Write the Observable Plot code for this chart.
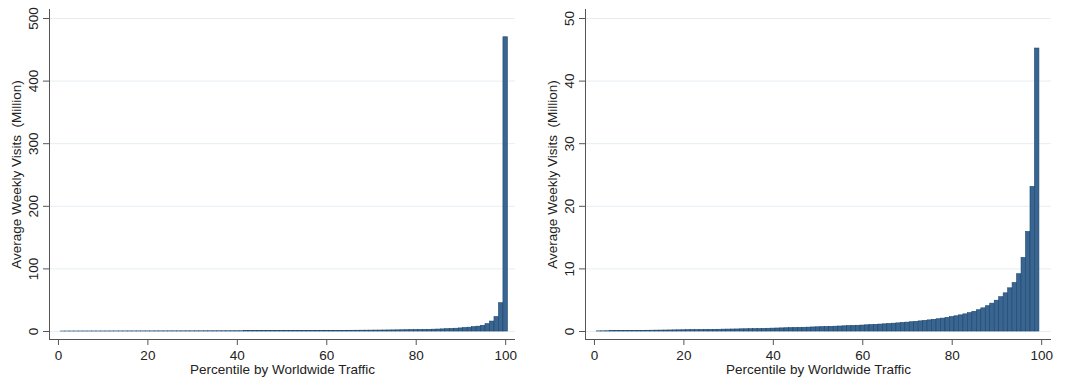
<!DOCTYPE html>
<html>
<head>
<meta charset="utf-8">
<script src="https://cdn.jsdelivr.net/npm/d3@7"></script>
<script src="https://cdn.jsdelivr.net/npm/@observablehq/plot@0.6"></script>
<style>
  html, body { margin: 0; padding: 0; background: #fff; }
  #wrap { display: flex; width: 1072px; height: 385px; }
  svg text { white-space: pre; }
</style>
</head>
<body>
<div id="wrap"></div>
<script>
// Percentile (1..100) by worldwide traffic
const percentiles = d3.range(1, 101);
// Average weekly visits (million)
const visits = [
  0.02, 0.03, 0.04, 0.05, 0.06, 0.06, 0.07, 0.08, 0.09, 0.10,
  0.11, 0.12, 0.13, 0.14, 0.15, 0.16, 0.17, 0.18, 0.19, 0.20,
  0.21, 0.22, 0.23, 0.24, 0.25, 0.26, 0.27, 0.28, 0.30, 0.31,
  0.32, 0.33, 0.35, 0.36, 0.37, 0.39, 0.40, 0.42, 0.44, 0.46,
  0.48, 0.50, 0.52, 0.54, 0.56, 0.58, 0.60, 0.62, 0.65, 0.67,
  0.70, 0.72, 0.75, 0.77, 0.80, 0.83, 0.86, 0.89, 0.92, 0.95,
  0.99, 1.03, 1.07, 1.11, 1.15, 1.20, 1.25, 1.30, 1.36, 1.42,
  1.48, 1.55, 1.62, 1.70, 1.78, 1.87, 1.96, 2.06, 2.18, 2.30,
  2.43, 2.58, 2.74, 2.93, 3.15, 3.40, 3.70, 4.04, 4.45, 4.92,
  5.48, 6.10, 6.90, 7.75, 9.15, 11.75, 15.9, 23.1, 45.2, 470
];
const xTicks = [0, 20, 40, 60, 80, 100];
const yTicksLeft = [0, 100, 200, 300, 400, 500];
const yTicksRight = [0, 10, 20, 30, 40, 50];
const xLabel = "Percentile by Worldwide Traffic";
const yLabel = "Average Weekly Visits  (Million)";

const rows = percentiles.map((p, i) => ({p, v: visits[i]}));

function panel(data, yTicks, yMax) {
  const xDom = [-2.0, 102.2];
  const step = (yTicks[yTicks.length - 1]) / 313.3; // units per px
  const yDom = [-8 * step, yTicks[yTicks.length - 1] + 9 * step];
  const font = "Liberation Sans, Arial, sans-serif";
  return Plot.plot({
    width: 536,
    height: 385,
    marginLeft: 49,
    marginRight: 21,
    marginTop: 9,
    marginBottom: 46,
    style: {fontFamily: font, fontSize: "13.5px", color: "#222", background: "#fff"},
    x: {domain: xDom},
    y: {domain: yDom},
    marks: [
      Plot.ruleY(yTicks, {x1: xDom[0], x2: xDom[1], stroke: "#e6eef2", strokeWidth: 1}),
      Plot.rectY(data, {
        x1: d => d.p - 0.5, x2: d => d.p + 0.5, y1: 0, y2: "v",
        fill: "#3a6590", stroke: "#1a476f", strokeWidth: 0.6
      }),
      Plot.ruleX([xDom[0]], {y1: yDom[0], y2: yDom[1], stroke: "#555", strokeWidth: 1}),
      Plot.ruleY([yDom[0]], {x1: xDom[0], x2: xDom[1], stroke: "#555", strokeWidth: 1}),
      Plot.axisX({ticks: xTicks, tickSize: 6, tickPadding: 5, label: null,
                  stroke: "#555", fill: "#222", fontSize: 13.5}),
      Plot.axisY({ticks: yTicks, tickSize: 6, tickFormat: () => "", label: null, stroke: "#555"}),
      Plot.text(yTicks, {x: xDom[0], y: d => d, text: d => String(d), rotate: -90,
                         dx: -16, fill: "#222", fontSize: 13.5, textAnchor: "middle"}),
      Plot.text([xLabel], {frameAnchor: "bottom", dy: 34, text: d => d,
                           fill: "#222", fontSize: 13.5}),
      Plot.text([yLabel], {frameAnchor: "left", dx: -33, rotate: -90, text: d => d,
                           fill: "#222", fontSize: 13.5, textAnchor: "middle"})
    ]
  });
}

const wrap = document.getElementById("wrap");
wrap.appendChild(panel(rows, yTicksLeft));
wrap.appendChild(panel(rows.filter(d => d.p <= 99), yTicksRight));
</script>
</body>
</html>
